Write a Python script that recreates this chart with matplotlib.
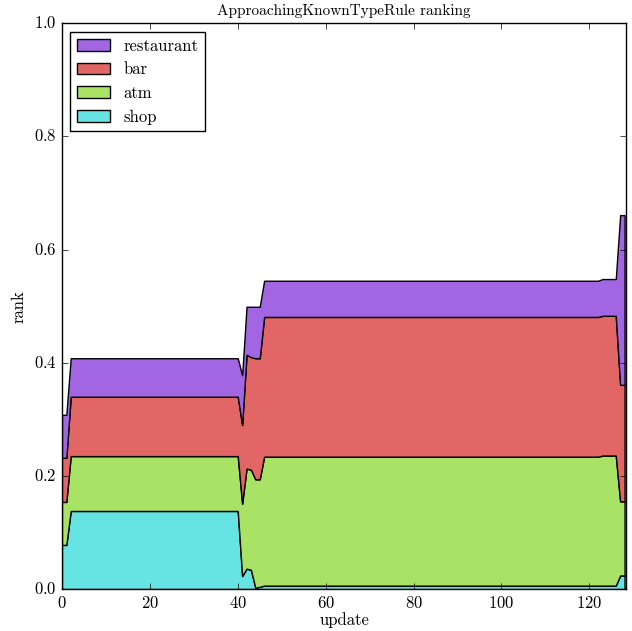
import matplotlib
matplotlib.use("Agg")
import matplotlib.pyplot as plt
import numpy as np

plt.style.use("classic")
plt.rcParams["font.family"] = "serif"
plt.rcParams["font.serif"] = ["cmr10"]
plt.rcParams["mathtext.fontset"] = "cm"
plt.rcParams["axes.formatter.use_mathtext"] = True

# rank per category for each update (runs of equal values)
update = np.arange(129)
shop = [0.078]*2 + [0.138]*39 + [0.023, 0.036, 0.034, 0.002, 0.004] + [0.006]*81 + [0.024]*2
atm = [0.076]*2 + [0.097]*39 + [0.128, 0.177, 0.177, 0.192, 0.190] + [0.228]*77 + [0.230]*4 + [0.131]*2
bar = [0.078]*2 + [0.105]*39 + [0.139, 0.201, 0.199, 0.214, 0.214] + [0.247]*81 + [0.206]*2
restaurant = [0.076]*2 + [0.068]*39 + [0.088, 0.085, 0.089, 0.091, 0.091] + [0.064]*77 + [0.065]*4 + [0.300]*2

labels = ["shop", "atm", "bar", "restaurant"]
colors = ["#66e3e3", "#a8e366", "#e36666", "#a366e3"]

fig = plt.figure(figsize=(6.32, 6.31), dpi=100, facecolor="white")
ax = fig.add_axes([0.098, 0.0665, 0.893, 0.8965])

polys = ax.stackplot(update, shop, atm, bar, restaurant, colors=colors,
                     labels=labels, edgecolor="black", linewidth=1.0)

ax.set_xlim(0, 128.4)
ax.set_ylim(0, 1.0)
ax.set_xticks(range(0, 121, 20))
ax.set_yticks(np.arange(0, 1.01, 0.2))
ax.set_xlabel("update", fontsize=12, labelpad=1)
ax.set_ylabel("rank", fontsize=12)
ax.set_title("ApproachingKnownTypeRule ranking", fontsize=11, y=1.003)
ax.tick_params(labelsize=12)

h, l = ax.get_legend_handles_labels()
ax.legend(h[::-1], l[::-1], loc="upper left", fontsize=12, fancybox=False)

fig.savefig("out.png", dpi=100, facecolor="white")
